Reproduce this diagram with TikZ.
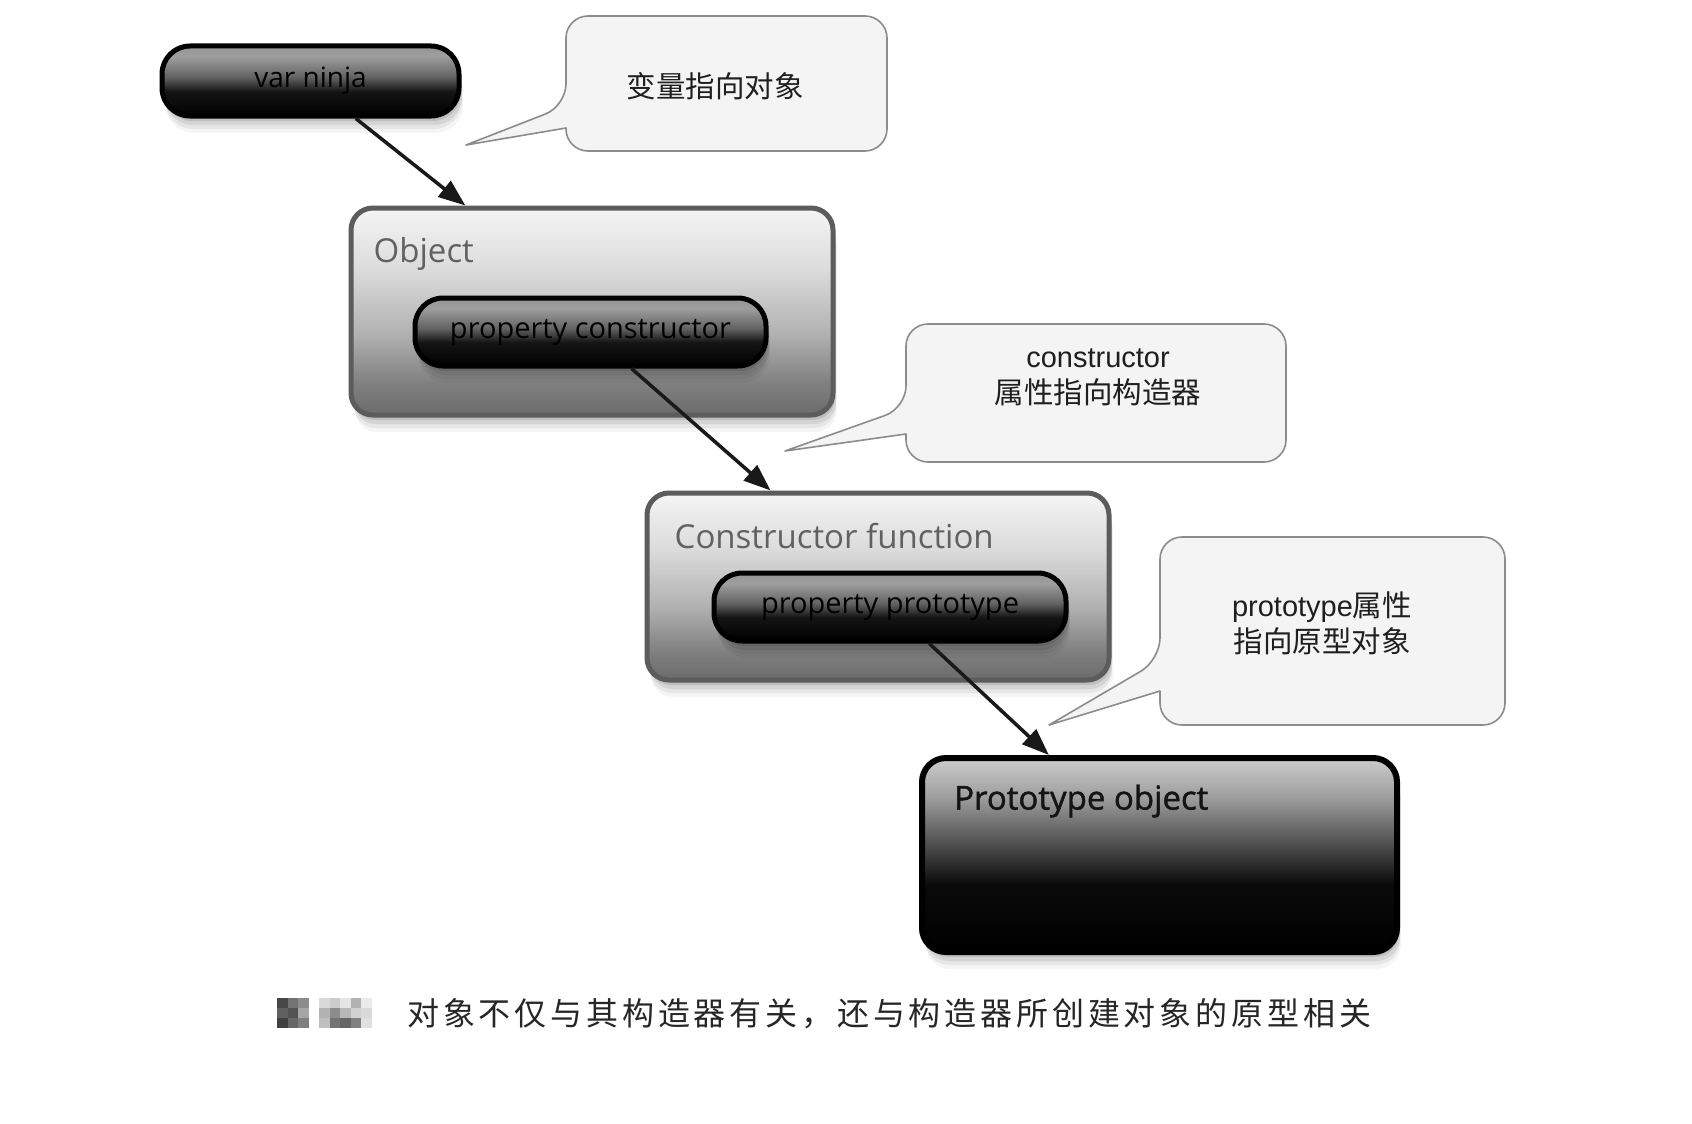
\documentclass[tikz,border=0pt]{standalone}
\usepackage{fontspec}
\setmainfont{Open Sans}
\newfontfamily\boxfont{Open Sans}
\newfontfamily\pofont[FakeBold=1.3]{Open Sans}
\newfontfamily\callfont{Liberation Sans}
\newfontfamily\cjk{Noto Sans CJK SC}
\newfontfamily\capfont[LetterSpace=12]{Noto Sans CJK SC}
\usetikzlibrary{calc,arrows.meta}
\definecolor{bxA}{gray}{0.42}
\definecolor{bxB}{gray}{0.50}
\definecolor{bxC}{gray}{0.70}
\definecolor{bxD}{gray}{0.86}
\definecolor{bxE}{gray}{0.96}
\definecolor{bxborder}{gray}{0.36}
\definecolor{pA}{gray}{0.0}
\definecolor{pB}{gray}{0.08}
\definecolor{pC}{gray}{0.38}
\definecolor{pD}{gray}{0.62}
\definecolor{pE}{gray}{0.58}
\definecolor{oA}{gray}{0.0}
\definecolor{oB}{gray}{0.04}
\definecolor{oC}{gray}{0.30}
\definecolor{oD}{gray}{0.62}
\definecolor{oE}{gray}{0.80}
\definecolor{callfill}{gray}{0.955}
\definecolor{calldraw}{gray}{0.55}
\pgfdeclareverticalshading{boxshade}{100bp}{color(0bp)=(bxA); color(25bp)=(bxA); color(32.5bp)=(bxB); color(45bp)=(bxC); color(60bp)=(bxD); color(75bp)=(bxE); color(100bp)=(bxE)}
\pgfdeclareverticalshading{pillshade}{100bp}{color(0bp)=(pA); color(25bp)=(pA); color(42.5bp)=(pB); color(52.5bp)=(pC); color(67.5bp)=(pD); color(75bp)=(pE); color(100bp)=(pE)}
\pgfdeclareverticalshading{poshade}{100bp}{color(0bp)=(oA); color(25bp)=(oA); color(42.5bp)=(oB); color(52.5bp)=(oC); color(65bp)=(oD); color(75bp)=(oE); color(100bp)=(oE)}
\tikzset{
  softshadow/.style={
    preaction={fill=black,fill opacity=0.10,transform canvas={shift={(2pt,-5pt)}}},
    preaction={fill=black,fill opacity=0.08,transform canvas={shift={(3pt,-9pt)}}},
    preaction={fill=black,fill opacity=0.06,transform canvas={shift={(3pt,-13pt)}}},
    preaction={fill=black,fill opacity=0.04,transform canvas={shift={(4pt,-17pt)}}}},
  basebox/.style={draw=bxborder, line width=5pt, rounded corners=22pt, shading=boxshade, inner sep=0pt, softshadow},
  pillbox/.style={draw=black, line width=5pt, rounded corners=28pt, shading=pillshade, inner sep=0pt, softshadow, text=black, font=\boxfont\fontsize{29}{32}\selectfont},
  pobox/.style={draw=black, line width=6pt, rounded corners=24pt, shading=poshade, inner sep=0pt, softshadow},
  boxlabel/.style={anchor=west, inner sep=0pt, text=black!62, font=\boxfont\fontsize{33}{38}\selectfont},
  callout/.style={fill=callfill, draw=calldraw, line width=1.6pt, line join=round},
  calltext/.style={align=center, inner sep=0pt, text=black!88, font=\callfont\fontsize{29}{36}\selectfont},
  arr/.style={line width=3.5pt, draw=black!90, -{Triangle[length=27pt,width=20pt]}}
}
\newcommand\bubble[8]{%
  \filldraw[callout] (#1,#5) -- (#7,#8) -- (#1,#6) [rounded corners=22pt] -- (#1,#4) -- (#3,#4) -- (#3,#2) -- (#1,#2) -- cycle;}
\newcommand\cjkc[1]{{\cjk\fontsize{29.5}{36}\selectfont #1}}
\begin{document}
\begin{tikzpicture}[x=1pt,y=-1pt]
\useasboundingbox (0,0) rectangle (1692,1124);
\fill[white] (0,0) rectangle (1692,1124);

% callouts
\bubble{566}{16}{887}{151}{106}{128}{466}{145}
\node[calltext] (c1) at (715,86) {\cjkc{变量指向对象}};
\bubble{906}{324}{1286}{462}{408}{434}{785}{451}
\node[calltext] (c2) at (1098,377) {constructor\\\cjkc{属性指向构造器}};
\bubble{1160}{537}{1505}{725}{660}{691}{1049}{725}
\node[calltext] (c3) at (1322,623) {prototype\cjkc{属性}\\\cjkc{指向原型对象}};

% boxes
\node[pillbox, minimum width=297pt, minimum height=70pt, font=\boxfont\fontsize{28}{30}\selectfont] (ninja) at (310.5,81) {var ninja};

\node[basebox, minimum width=482pt, minimum height=207pt] (obj) at (592,311.5) {};
\node[boxlabel] (objlbl) at ($(obj.north west)+(25,48)$) {Object};
\node[pillbox, minimum width=351pt, minimum height=68pt] (pc) at (590.5,332) {property constructor};

\node[basebox, minimum width=462pt, minimum height=187pt] (cf) at (878,586.5) {};
\node[boxlabel] (cflbl) at ($(cf.north west)+(30,46)$) {Constructor function};
\node[pillbox, minimum width=352pt, minimum height=68pt] (pp) at (890,607) {property prototype};

\node[pobox, minimum width=475pt, minimum height=194pt] (po) at (1159.5,855) {};
\node[boxlabel, text=black!92, font=\pofont\fontsize{33}{38}\selectfont] (polbl) at ($(po.north west)+(35,46)$) {Prototype object};

% arrows
\draw[arr] ($(ninja.south west)!0.65!(ninja.south east)$) -- ($(obj.north west)!0.24!(obj.north east)$);
\draw[arr] ($(pc.south west)!0.615!(pc.south east)$) -- ($(cf.north west)!0.27!(cf.north east)$);
\draw[arr] ($(pp.south west)!0.61!(pp.south east)$) -- ($(po.north west)!0.27!(po.north east)$);

% caption
\foreach \c/\r/\v in {0/0/72,0/1/62,0/2/75,1/0/55,1/1/68,1/2/60,2/0/45,2/1/35,2/2/50,
                      4/0/15,4/1/30,4/2/25,5/0/20,5/1/45,5/2/55,6/0/10,6/1/28,6/2/60,7/0/30,7/1/18,7/2/50,8/0/8,8/1/15,8/2/12}
  \fill[black!\v] (277+\c*10.5, 998+\r*10) rectangle ++(10.5,10);
\node[anchor=west, inner sep=0pt, text=black!85, font=\capfont\fontsize{32}{36}\selectfont] (cap) at (407,1014) {对象不仅与其构造器有关，还与构造器所创建对象的原型相关};
\end{tikzpicture}
\end{document}
